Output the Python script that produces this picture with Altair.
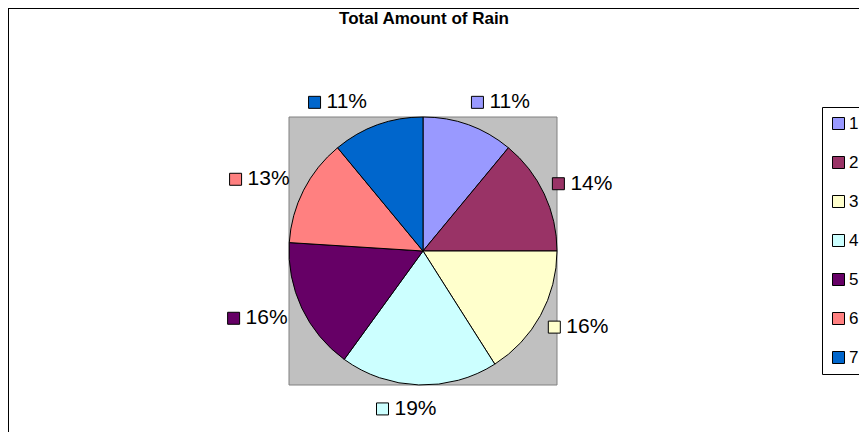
import altair as alt
import pandas as pd

title_text = "Total Amount of Rain"
categories = ["1", "2", "3", "4", "5", "6", "7"]
values = [11, 14, 16, 19, 16, 13, 11]
colors = ["#9999FF", "#993366", "#FFFFCC", "#CCFFFF", "#660066", "#FF8080", "#0066CC"]

df = pd.DataFrame({"cat": categories, "value": values, "order": list(range(len(categories)))})
one = pd.DataFrame({"k": [0]})

W, H = 851, 424
CX, CY, R = 415, 243, 134
DX, DY = 143, 150
BOXW, BOXH = 61, 16
FONT = "Liberation Sans"

color_scale = alt.Scale(domain=categories, range=colors)
legend = alt.Legend(
    title=None, orient="none", legendX=814, legendY=99,
    symbolType="square", symbolSize=144, symbolStrokeColor="black",
    symbolStrokeWidth=1, labelFontSize=17, labelFont=FONT, labelColor="black",
    strokeColor="black", fillColor="white", padding=8, rowPadding=21,
    labelOffset=2, symbolOpacity=1,
)

bg = alt.Chart(one).mark_rect(fill="#C0C0C0", stroke="#808080", strokeWidth=1).encode(
    x=alt.value(CX - R), x2=alt.value(CX + R), y=alt.value(CY - R), y2=alt.value(CY + R)
)

pie = alt.Chart(df).mark_arc(outerRadius=R, stroke="black", strokeWidth=1, opacity=1).encode(
    theta=alt.Theta("value:Q", stack=True),
    color=alt.Color("cat:N", scale=color_scale, legend=legend),
    order=alt.Order("order:Q"),
    x=alt.value(CX), y=alt.value(CY),
)

lab = alt.Chart(df).transform_joinaggregate(
    total="sum(value)"
).transform_window(
    cum="sum(value)", sort=[alt.SortField("order")], frame=[None, 0]
).transform_calculate(
    mid="(datum.cum - datum.value / 2) / datum.total * 2 * PI",
    pct="format(datum.value / datum.total, '.0%')",
    s="sin(datum.mid)",
    c="cos(datum.mid)",
    lx=f"{CX} + {DX} * sin(datum.mid)",
    ly=f"{CY} - {DY} * cos(datum.mid)",
    left=f"datum.s > 0.3 ? datum.lx : (datum.s < -0.3 ? datum.lx - {BOXW} - 5 : datum.lx - 42)",
    my=f"datum.ly - datum.c * {BOXH / 2}",
    sqx="datum.left + 6",
    tx="datum.left + 18",
)

squares = lab.mark_square(size=144, stroke="black", strokeWidth=1, opacity=1).encode(
    x=alt.X("sqx:Q", scale=None, axis=None),
    y=alt.Y("my:Q", scale=None, axis=None),
    color=alt.Color("cat:N", scale=color_scale, legend=None),
)

texts = lab.mark_text(align="left", baseline="middle", fontSize=21, font=FONT, color="black").encode(
    x=alt.X("tx:Q", scale=None, axis=None),
    y=alt.Y("my:Q", scale=None, axis=None),
    text="pct:N",
)

title = alt.Chart(one).mark_text(
    text=title_text, fontSize=17, fontWeight="bold", font=FONT, color="black",
    align="center", baseline="middle",
).encode(x=alt.value(416), y=alt.value(11))

left_rule = alt.Chart(one).mark_rule(color="black", strokeWidth=2).encode(
    x=alt.value(0), y=alt.value(0), y2=alt.value(H)
)
top_rule = alt.Chart(one).mark_rule(color="black", strokeWidth=2).encode(
    x=alt.value(0), x2=alt.value(W), y=alt.value(0)
)

chart = alt.layer(bg, pie, squares, texts, title, left_rule, top_rule).properties(
    width=W, height=H, padding=0, autosize="none", background="white"
).configure_view(stroke=None)

chart.save("out.html", embed_options={"renderer": "svg", "actions": False})
